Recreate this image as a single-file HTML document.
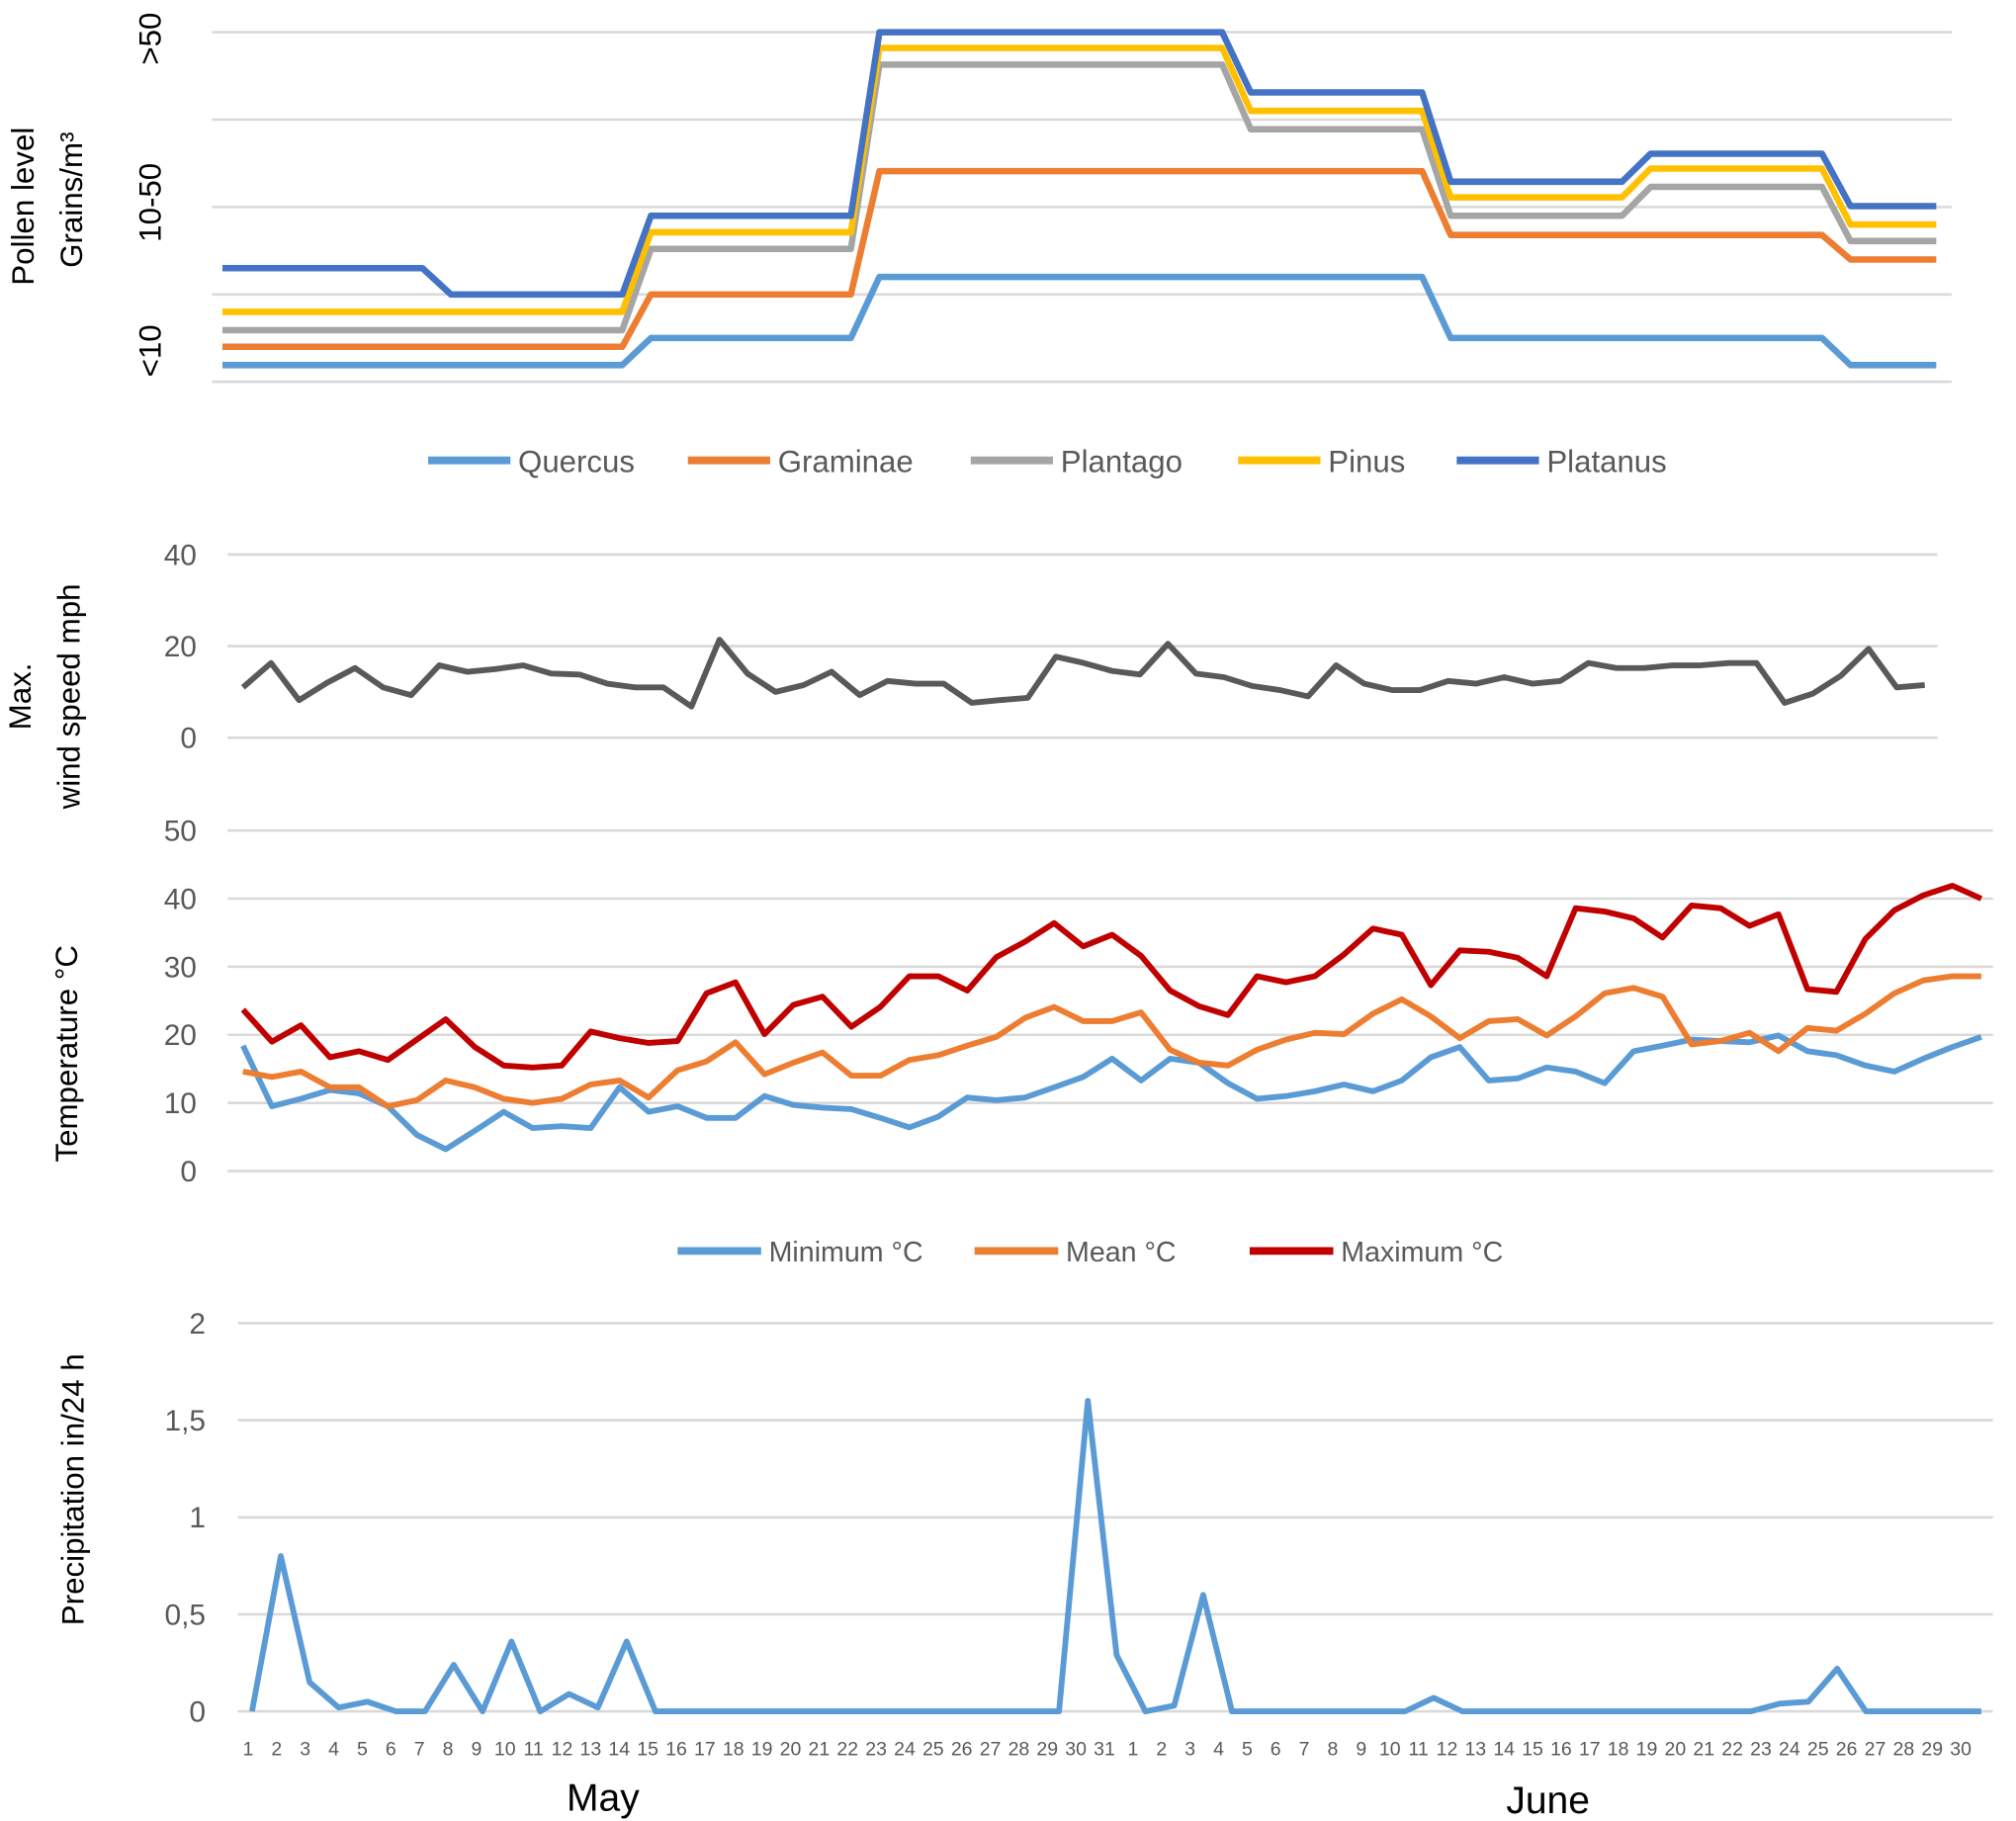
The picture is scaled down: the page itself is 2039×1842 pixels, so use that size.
<!DOCTYPE html>
<html><head><meta charset="utf-8"><style>
html,body{margin:0;padding:0;background:#fff;}
svg{display:block;}
text{font-family:"Liberation Sans",sans-serif;}
.cond{font-family:"Liberation Sans Narrow","Liberation Sans",sans-serif;}
</style></head><body>
<svg id="chart" width="2039" height="1842" viewBox="0 0 1568 1412" preserveAspectRatio="none" xmlns="http://www.w3.org/2000/svg">
<g id="g-pollen"></g>
<g id="g-wind"></g>
<g id="g-temp"></g>
<g id="g-precip"></g>
</svg>
<script>
// ---------- DATA ----------
const pollenLevelLabels = ["<10","10-50",">50"];
const pollenSeriesNames = ["Quercus","Graminae","Plantago","Pinus","Platanus"];
const pollenColors = ["#5b9bd5","#ed7d31","#a5a5a5","#ffc000","#4472c4"];
const quercus = [0.19,0.19,0.19,0.19,0.19,0.19,0.19,0.19,0.19,0.19,0.19,0.19,0.19,0.19,0.19,0.5,0.5,0.5,0.5,0.5,0.5,0.5,0.5,1.2,1.2,1.2,1.2,1.2,1.2,1.2,1.2,1.2,1.2,1.2,1.2,1.2,1.2,1.2,1.2,1.2,1.2,1.2,1.2,0.5,0.5,0.5,0.5,0.5,0.5,0.5,0.5,0.5,0.5,0.5,0.5,0.5,0.5,0.19,0.19,0.19,0.19];
const graminae = [0.4,0.4,0.4,0.4,0.4,0.4,0.4,0.4,0.4,0.4,0.4,0.4,0.4,0.4,0.4,1.0,1.0,1.0,1.0,1.0,1.0,1.0,1.0,2.41,2.41,2.41,2.41,2.41,2.41,2.41,2.41,2.41,2.41,2.41,2.41,2.41,2.41,2.41,2.41,2.41,2.41,2.41,2.41,1.68,1.68,1.68,1.68,1.68,1.68,1.68,1.68,1.68,1.68,1.68,1.68,1.68,1.68,1.4,1.4,1.4,1.4];
const plantago = [0.59,0.59,0.59,0.59,0.59,0.59,0.59,0.59,0.59,0.59,0.59,0.59,0.59,0.59,0.59,1.52,1.52,1.52,1.52,1.52,1.52,1.52,1.52,3.63,3.63,3.63,3.63,3.63,3.63,3.63,3.63,3.63,3.63,3.63,3.63,3.63,2.89,2.89,2.89,2.89,2.89,2.89,2.89,1.9,1.9,1.9,1.9,1.9,1.9,1.9,2.23,2.23,2.23,2.23,2.23,2.23,2.23,1.61,1.61,1.61,1.61];
const pinus = [0.8,0.8,0.8,0.8,0.8,0.8,0.8,0.8,0.8,0.8,0.8,0.8,0.8,0.8,0.8,1.71,1.71,1.71,1.71,1.71,1.71,1.71,1.71,3.82,3.82,3.82,3.82,3.82,3.82,3.82,3.82,3.82,3.82,3.82,3.82,3.82,3.1,3.1,3.1,3.1,3.1,3.1,3.1,2.11,2.11,2.11,2.11,2.11,2.11,2.11,2.44,2.44,2.44,2.44,2.44,2.44,2.44,1.8,1.8,1.8,1.8];
const platanus = [1.3,1.3,1.3,1.3,1.3,1.3,1.3,1.3,1.0,1.0,1.0,1.0,1.0,1.0,1.0,1.9,1.9,1.9,1.9,1.9,1.9,1.9,1.9,4.0,4.0,4.0,4.0,4.0,4.0,4.0,4.0,4.0,4.0,4.0,4.0,4.0,3.31,3.31,3.31,3.31,3.31,3.31,3.31,2.29,2.29,2.29,2.29,2.29,2.29,2.29,2.61,2.61,2.61,2.61,2.61,2.61,2.61,2.01,2.01,2.01,2.01];

const windTicks = [0,20,40];
const windSpeed = [11,16.3,8.2,12,15.2,11,9.3,15.8,14.4,15,15.8,14,13.8,11.8,11,11,6.8,21.4,14,10,11.5,14.4,9.3,12.4,11.8,11.8,7.6,8.2,8.7,17.7,16.3,14.6,13.8,20.5,14,13.2,11.3,10.4,9,15.8,11.8,10.4,10.4,12.4,11.8,13.2,11.8,12.4,16.3,15.2,15.2,15.8,15.8,16.3,16.3,7.6,9.6,13.5,19.4,11,11.5];

const tempTicks = [0,10,20,30,40,50];
const tempNames = ["Minimum °C","Mean °C","Maximum °C"];
const tempColors = ["#5b9bd5","#ed7d31","#c00000"];
const tempMin = [18.4,9.5,10.6,11.9,11.4,9.5,5.3,3.2,5.9,8.7,6.3,6.6,6.3,12.3,8.7,9.5,7.8,7.8,11,9.7,9.3,9.1,7.8,6.4,8,10.8,10.4,10.8,12.3,13.8,16.5,13.3,16.5,15.9,12.9,10.6,11,11.7,12.7,11.7,13.3,16.7,18.2,13.3,13.6,15.2,14.6,12.9,17.6,18.4,19.3,19.1,18.9,19.9,17.6,17,15.5,14.6,16.5,18.2,19.7];
const tempMean = [14.6,13.8,14.6,12.3,12.3,9.5,10.4,13.3,12.3,10.6,10,10.6,12.7,13.3,10.8,14.8,16.1,18.9,14.2,15.9,17.4,14,14,16.3,17,18.4,19.7,22.5,24.1,22,22,23.3,17.8,15.9,15.5,17.8,19.3,20.3,20.1,23.1,25.2,22.7,19.5,22,22.3,19.9,22.7,26.1,26.9,25.6,18.6,19.1,20.3,17.6,21,20.6,23.1,26.1,28,28.6,28.6];
const tempMax = [23.7,19,21.4,16.7,17.6,16.3,19.3,22.3,18.2,15.5,15.2,15.5,20.5,19.5,18.8,19.1,26.1,27.7,20.1,24.4,25.6,21.2,24.1,28.6,28.6,26.5,31.4,33.7,36.4,33,34.7,31.6,26.5,24.2,22.9,28.6,27.7,28.6,31.8,35.6,34.7,27.3,32.4,32.2,31.3,28.6,38.6,38.1,37.1,34.3,39,38.6,36,37.7,26.7,26.3,34.1,38.3,40.5,41.9,40];

const precipTicks = [0,0.5,1,1.5,2];
const precipTickLabels = ["0","0,5","1","1,5","2"];
const precip = [0,0.8,0.15,0.02,0.05,0,0,0.24,0,0.36,0,0.09,0.02,0.36,0,0,0,0,0,0,0,0,0,0,0,0,0,0,0,1.6,0.29,0,0.03,0.6,0,0,0,0,0,0,0,0.07,0,0,0,0,0,0,0,0,0,0,0,0.04,0.05,0.22,0,0,0,0,0];

const dayLabels = [1,2,3,4,5,6,7,8,9,10,11,12,13,14,15,16,17,18,19,20,21,22,23,24,25,26,27,28,29,30,31,1,2,3,4,5,6,7,8,9,10,11,12,13,14,15,16,17,18,19,20,21,22,23,24,25,26,27,28,29,30];
const monthLabels = ["May","June"];

// ---------- HELPERS ----------
const NS = "http://www.w3.org/2000/svg";
function mk(parent, tag, attrs, txt) {
  const e = document.createElementNS(NS, tag);
  for (const k in attrs) e.setAttribute(k, attrs[k]);
  if (txt !== undefined) e.textContent = txt;
  parent.appendChild(e);
  return e;
}
function lin(d0, d1, r0, r1) { return v => r0 + (v - d0) / (d1 - d0) * (r1 - r0); }
function pathFrom(vals, xs, ys) { return vals.map((v, i) => (i ? "L" : "M") + xs(i).toFixed(1) + " " + ys(v).toFixed(1)).join(""); }
const GRID = "#d9d9d9", TXT = "#595959";

// ---------- POLLEN ----------
(function () {
  const g = document.getElementById("g-pollen");
  const xs = lin(0, 60, 173, 1506), ys = lin(0, 4, 296, 25);
  [0, 1, 2, 3, 4].forEach(v => {
    const l = mk(g, "line", { x1: 165, x2: 1518, y1: ys(v), y2: ys(v), stroke: GRID, "stroke-width": 2 });
    
    
  });
  const lblY = [272, 157, 30];
  pollenLevelLabels.forEach((t, i) => {
    const e = mk(g, "text", { x: 0, y: 0, transform: `translate(125 ${lblY[i]}) rotate(-90)`, "text-anchor": "middle", "font-size": 24, fill: "#000" }, t);
    
    
  });
  const t1 = mk(g, "text", { transform: "translate(26 160) rotate(-90)", "text-anchor": "middle", "font-size": 24, fill: "#000" }, "Pollen level");
  
  
  const t2 = mk(g, "text", { transform: "translate(64 155) rotate(-90)", "text-anchor": "middle", "font-size": 24, fill: "#000" }, "Grains/m³");
  
  
  const series = [quercus, graminae, plantago, pinus, platanus];
  series.forEach((s, i) => {
    const p = mk(g, "path", { d: pathFrom(s, xs, ys), fill: "none", stroke: pollenColors[i], "stroke-width": 5, "stroke-linejoin": "round" });
    
    
  });
  const lx = [333, 535, 755, 963, 1133];
  pollenSeriesNames.forEach((n, i) => {
    const lg = mk(g, "g", {});
    
    
    mk(lg, "line", { x1: lx[i], x2: lx[i] + 64, y1: 357, y2: 357, stroke: pollenColors[i], "stroke-width": 6 });
    mk(lg, "text", { x: lx[i] + 70, y: 366, "font-size": 24, fill: TXT, class: "cond" }, n);
  });
})();

// ---------- WIND ----------
(function () {
  const g = document.getElementById("g-wind");
  const xs = lin(0, 60, 189, 1497), ys = lin(0, 40, 572, 430);
  windTicks.forEach(v => {
    const l = mk(g, "line", { x1: 177, x2: 1507, y1: ys(v), y2: ys(v), stroke: GRID, "stroke-width": 2 });
    
    
    const t = mk(g, "text", { x: 153, y: ys(v) + 8, "text-anchor": "end", "font-size": 23, fill: TXT, class: "cond" }, String(v));
    
    
  });
  const a = mk(g, "text", { transform: "translate(24 540) rotate(-90)", "text-anchor": "middle", "font-size": 24, fill: "#000" }, "Max.");
  
  
  const b = mk(g, "text", { transform: "translate(62 540) rotate(-90)", "text-anchor": "middle", "font-size": 24, fill: "#000" }, "wind speed mph");
  
  
  const p = mk(g, "path", { d: pathFrom(windSpeed, xs, ys), fill: "none", stroke: "#595959", "stroke-width": 4.5, "stroke-linejoin": "round" });
  
  
})();

// ---------- TEMPERATURE ----------
(function () {
  const g = document.getElementById("g-temp");
  const xs = lin(0, 60, 189, 1541), ys = lin(0, 50, 908, 644);
  tempTicks.forEach(v => {
    const l = mk(g, "line", { x1: 177, x2: 1550, y1: ys(v), y2: ys(v), stroke: GRID, "stroke-width": 2 });
    
    
    const t = mk(g, "text", { x: 153, y: ys(v) + 8, "text-anchor": "end", "font-size": 23, fill: TXT, class: "cond" }, String(v));
    
    
  });
  const a = mk(g, "text", { transform: "translate(60 817) rotate(-90)", "text-anchor": "middle", "font-size": 24, fill: "#000" }, "Temperature °C");
  
  
  [tempMin, tempMean, tempMax].forEach((s, i) => {
    const p = mk(g, "path", { d: pathFrom(s, xs, ys), fill: "none", stroke: tempColors[i], "stroke-width": 4.5, "stroke-linejoin": "round" });
    
    
  });
  const lx = [527, 758, 972];
  tempNames.forEach((n, i) => {
    const lg = mk(g, "g", {});
    
    
    mk(lg, "line", { x1: lx[i], x2: lx[i] + 65, y1: 970, y2: 970, stroke: tempColors[i], "stroke-width": 6 });
    mk(lg, "text", { x: lx[i] + 71, y: 978, "font-size": 22, fill: TXT, class: "cond" }, n);
  });
})();

// ---------- PRECIPITATION ----------
(function () {
  const g = document.getElementById("g-precip");
  const xs = lin(0, 60, 196, 1541), ys = lin(0, 2, 1327, 1026);
  precipTicks.forEach((v, i) => {
    const l = mk(g, "line", { x1: 185, x2: 1550, y1: ys(v), y2: ys(v), stroke: GRID, "stroke-width": 2 });
    
    
    const t = mk(g, "text", { x: 160, y: ys(v) + 8, "text-anchor": "end", "font-size": 23, fill: TXT, class: "cond" }, precipTickLabels[i]);
    
    
  });
  const a = mk(g, "text", { transform: "translate(65 1155) rotate(-90)", "text-anchor": "middle", "font-size": 24, fill: "#000" }, "Precipitation in/24 h");
  
  
  const p = mk(g, "path", { d: pathFrom(precip, xs, ys), fill: "none", stroke: "#5b9bd5", "stroke-width": 4.5, "stroke-linejoin": "round" });
  
  
  const lxs = lin(0, 60, 193, 1525);
  dayLabels.forEach((d, i) => {
    const t = mk(g, "text", { x: lxs(i), y: 1361, "text-anchor": "middle", "font-size": 15, fill: TXT, class: "cond" }, String(d));
    
    
  });
  const mx = [469, 1204], my = [1404, 1406];
  monthLabels.forEach((m, i) => {
    const t = mk(g, "text", { x: mx[i], y: my[i], "text-anchor": "middle", "font-size": 30, fill: "#000" }, m);
    
    
  });
})();
</script>
</body></html>
